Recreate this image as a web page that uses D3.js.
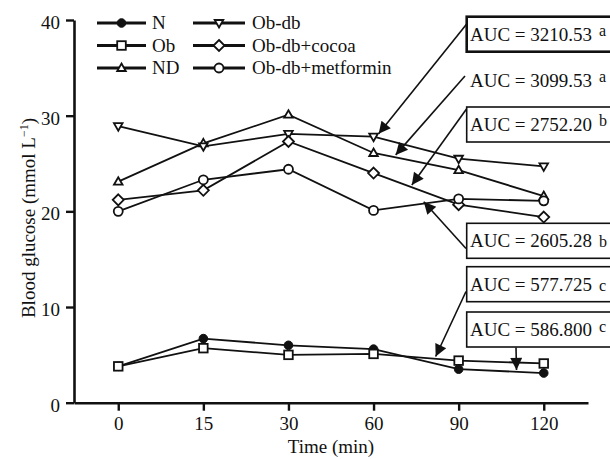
<!DOCTYPE html>
<html><head><meta charset="utf-8">
<script src="https://cdn.jsdelivr.net/npm/d3@7"></script>
<style>
html,body{margin:0;padding:0;background:#fff;}
svg{display:block;font-family:"Liberation Serif","Times New Roman",serif;}
</style></head>
<body><svg id="c" width="610" height="459"></svg>
<script>
// ---- data ----
const times = ["0","15","30","60","90","120"];
const yTicks = [0,10,20,30,40];
const seriesNames = ["N","Ob","ND","Ob-db","Ob-db+cocoa","Ob-db+metformin"];
const valsN        = [3.8, 6.7, 6.0, 5.6, 3.5, 3.1];
const valsOb       = [3.8, 5.7, 5.0, 5.1, 4.4, 4.1];
const valsND       = [23.1, 27.1, 30.1, 26.1, 24.3, 21.6];
const valsObdb     = [28.9, 26.8, 28.1, 27.8, 25.5, 24.7];
const valsCocoa    = [21.2, 22.2, 27.3, 24.0, 20.7, 19.4];
const valsMetformin= [20.0, 23.3, 24.4, 20.1, 21.3, 21.1];
const aucLabels = ["AUC = 3210.53","AUC = 3099.53","AUC = 2752.20","AUC = 2605.28","AUC = 577.725","AUC = 586.800"];
const aucLetters = ["a","a","b","b","c","c"];
// arrow tips in data terms: [category index (fractional), glucose value]
const arrowTips = [[3.06,28.1],[3.26,25.9],[3.45,22.75],[3.59,21.0],[3.73,4.83],[4.68,3.42]];

// ---- layout ----
const FONT = "Liberation Serif, Times New Roman, serif";
const svg = d3.select("#c");
const x = d3.scalePoint().domain(times).range([74,588]).padding(0.52);
const y = d3.scaleLinear().domain([0,40]).range([402.7,20]);
const xi = i => x(times[0]) + i*x.step();

const series = [
  {name:seriesNames[0], vals:valsN, sym:"circleF"},
  {name:seriesNames[1], vals:valsOb, sym:"square"},
  {name:seriesNames[2], vals:valsND, sym:"tri"},
  {name:seriesNames[3], vals:valsObdb, sym:"triDown"},
  {name:seriesNames[4], vals:valsCocoa, sym:"diamond"},
  {name:seriesNames[5], vals:valsMetformin, sym:"circle"}
];

function drawSym(g, sym, cx, cy){
  const sw = 1.8;
  if(sym==="circleF"){ g.append("circle").attr("cx",cx).attr("cy",cy).attr("r",4.3).attr("fill","#111").attr("stroke","#111").attr("stroke-width",1); }
  else if(sym==="circle"){ g.append("circle").attr("cx",cx).attr("cy",cy).attr("r",4.5).attr("fill","#fff").attr("stroke","#111").attr("stroke-width",sw); }
  else if(sym==="square"){ g.append("rect").attr("x",cx-4.3).attr("y",cy-4.3).attr("width",8.6).attr("height",8.6).attr("fill","#fff").attr("stroke","#111").attr("stroke-width",sw); }
  else if(sym==="diamond"){ g.append("path").attr("d",`M${cx},${cy-5.5}L${cx+5.5},${cy}L${cx},${cy+5.5}L${cx-5.5},${cy}Z`).attr("fill","#fff").attr("stroke","#111").attr("stroke-width",sw); }
  else if(sym==="tri"){ g.append("path").attr("d",`M${cx},${cy-4.5}L${cx+4.3},${cy+3}L${cx-4.3},${cy+3}Z`).attr("fill","#fff").attr("stroke","#111").attr("stroke-width",sw); }
  else if(sym==="triDown"){ g.append("path").attr("d",`M${cx},${cy+4.5}L${cx+4.3},${cy-3}L${cx-4.3},${cy-3}Z`).attr("fill","#fff").attr("stroke","#111").attr("stroke-width",sw); }
}

// axes
const yAxis = svg.append("g").attr("transform","translate(74,0)")
  .call(d3.axisLeft(y).tickValues(yTicks).tickSize(8).tickSizeOuter(0).tickPadding(6));
const xAxis = svg.append("g").attr("transform","translate(0,402.7)")
  .call(d3.axisBottom(x).tickSize(8).tickSizeOuter(0).tickPadding(6));
[yAxis,xAxis].forEach(a=>{
  a.attr("font-family",FONT).attr("font-size",19);
  a.selectAll("path.domain").attr("stroke","#111").attr("stroke-width",2.6);
  a.selectAll(".tick line").attr("stroke","#111").attr("stroke-width",2.4);
  a.selectAll(".tick text").attr("fill","#111");
});
yAxis.selectAll(".tick text").attr("dy","0.45em");
xAxis.selectAll(".tick text").attr("dy","0.68em");

// axis titles
svg.append("text").attr("x",331).attr("y",453).attr("text-anchor","middle").attr("font-family",FONT)
  .attr("font-size",19).attr("fill","#111").text("Time (min)");
const yt = svg.append("text").attr("transform","translate(35,218) rotate(-90)").attr("text-anchor","middle")
  .attr("font-family",FONT).attr("font-size",19).attr("fill","#111");
yt.append("tspan").text("Blood glucose (mmol L");
yt.append("tspan").attr("baseline-shift","super").attr("font-size",12).text("\u22121");
yt.append("tspan").text(")");

// lines
const line = d3.line().x((d,i)=>x(times[i])).y(d=>y(d));
const gl = svg.append("g");
series.forEach(s=>{
  gl.append("path").attr("d",line(s.vals)).attr("fill","none").attr("stroke","#111").attr("stroke-width",1.8);
});
const gm = svg.append("g");
series.forEach(s=>{
  s.vals.forEach((v,i)=>drawSym(gm,s.sym,x(times[i]),y(v)));
});

// legend
const legRows = [23,45.5,68];
const legCols = [{x0:97,x1:146,tx:152},{x0:193,x1:245,tx:252}];
series.forEach((s,k)=>{
  const c = legCols[Math.floor(k/3)], r = legRows[k%3];
  const g = svg.append("g");
  g.append("line").attr("x1",c.x0).attr("x2",c.x1).attr("y1",r).attr("y2",r).attr("stroke","#111").attr("stroke-width",2.8);
  drawSym(g,s.sym,(c.x0+c.x1)/2,r);
  g.append("text").attr("x",c.tx).attr("y",r+6).attr("font-family",FONT).attr("font-size",19).attr("fill","#111").text(s.name);
});

// AUC annotation boxes
const boxTops = [16.7, 63, 107, 223.3, 266.7, 312];
const boxBorder = [2.6, 0, 1.6, 1.6, 1.6, 1.6];
const boxStarts = [[466.7,24],[465,76],[466.5,109],[466,248.5],[466,291.5],[516,347.5]];
const letterShift = [-5,-5,-5,0,0,-4];
aucLabels.forEach((lab,k)=>{
  const top = boxTops[k];
  if(boxBorder[k]>0){
    svg.append("rect").attr("x",466.7).attr("y",top).attr("width",170).attr("height",35)
      .attr("fill","#fff").attr("stroke","#111").attr("stroke-width",boxBorder[k]);
  }
  const t = svg.append("text").attr("x",470).attr("y",top+24).attr("font-family",FONT).attr("font-size",19).attr("fill","#111");
  t.append("tspan").text(lab);
  t.append("tspan").attr("dx",7).attr("dy",letterShift[k]).attr("font-size",16).text(aucLetters[k]);
});

// arrows
const defs = svg.append("defs");
defs.append("marker").attr("id","ah").attr("viewBox","0 0 10 10").attr("refX",10).attr("refY",5)
  .attr("markerWidth",16).attr("markerHeight",12).attr("markerUnits","userSpaceOnUse").attr("orient","auto")
  .append("path").attr("d","M0,0L10,5L0,10Z").attr("fill","#111");
arrowTips.forEach((tp,k)=>{
  const s = boxStarts[k];
  svg.append("line").attr("x1",s[0]).attr("y1",s[1]).attr("x2",xi(tp[0])).attr("y2",y(tp[1]))
    .attr("stroke","#111").attr("stroke-width",1.6).attr("marker-end","url(#ah)");
});
</script></body></html>
